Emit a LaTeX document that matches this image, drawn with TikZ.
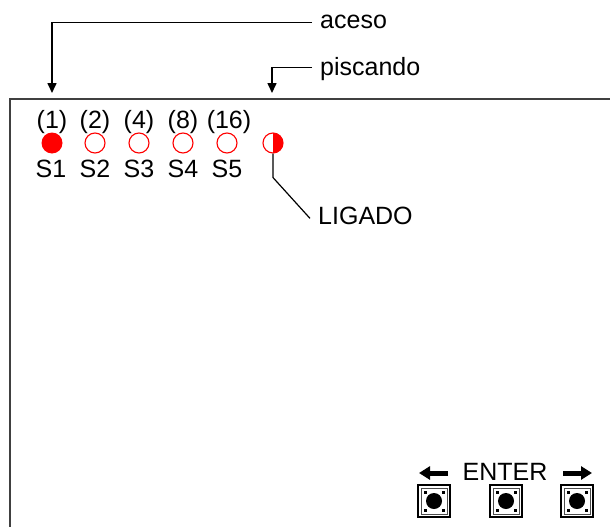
\documentclass[tikz,border=0pt]{standalone}
\usepackage{fontspec}
\setmainfont{Liberation Sans}
\usetikzlibrary{arrows.meta}
\definecolor{ledred}{RGB}{255,0,0}
\tikzset{
  txt/.style={inner sep=0pt, font=\fontsize{25}{29}\selectfont},
  conn/.style={line width=1.6, black},
  tip/.style={-{Triangle[width=9,length=10]}},
  ledon/.style={circle, minimum size=21, inner sep=0pt, fill=ledred},
  ledoff/.style={circle, minimum size=20, inner sep=0pt, draw=ledred, line width=1.1},
  ledhalf/.style={circle, minimum size=20, inner sep=0pt, draw=ledred, line width=1.1,
    path picture={\fill[ledred] (path picture bounding box.north) rectangle (path picture bounding box.south east);}},
  bigarrow/.style={line width=5, -{Triangle[width=13,length=11]}},
}
\begin{document}
\begin{tikzpicture}[x=1pt,y=-1pt]
\useasboundingbox (0,0) rectangle (610,527);
% panel
\draw[line width=2, black!75] (610,99) -- (10,99) -- (10,527);
% top labels
\node[txt, anchor=base west] (aceso) at (320,29) {aceso};
\node[txt, anchor=base west] (pisc) at (320,75) {piscando};
\coordinate (acesotip) at (52,93);
\coordinate (pisctip) at (272,93);
\draw[conn, tip] ([xshift=-8]aceso.west) -| (acesotip);
\draw[conn, tip] ([xshift=-8,yshift=1]pisc.west) -| (pisctip);
% weights
\foreach \n/\x/\w in {1/52/(1),2/95/(2),3/139/(4),4/183/(8),5/229/(16)}{
  \node[txt, anchor=base] (w\n) at (\x,128) {\w};
}
% LEDs
\node[ledon] (c1) at (52,143) {};
\node[ledoff] (c2) at (95,143) {};
\node[ledoff] (c3) at (139,143) {};
\node[ledoff] (c4) at (183,143) {};
\node[ledoff] (c5) at (227,143) {};
\node[ledhalf] (c6) at (273,143) {};
% switch names
\foreach \n/\x in {1/51,2/95,3/139,4/183,5/227}{
  \node[txt, anchor=base] (s\n) at (\x,177) {S\n};
}
% LIGADO
\node[txt, anchor=base west] (lig) at (318,224) {LIGADO};
\draw[line width=1.2] (c6.south) -- ++(0,24) -- ([xshift=-8,yshift=-3]lig.west);
% ENTER and arrows
\node[txt, anchor=base] (enter) at (505,480) {ENTER};
\coordinate (la) at (448,473);
\coordinate (ra) at (563,473);
\draw[bigarrow] (la) -- ++(-29,0);
\draw[bigarrow] (ra) -- ++(29,0);
% buttons
\foreach \n/\x in {1/434,2/506,3/577}{
  \node[draw, line width=1.8, minimum size=32, inner sep=0pt] (b\n) at (\x,501) {};
  \draw[line width=0.8, black!70] (\x-13,488) rectangle (\x+13,514);
  \fill (\x,501) circle[radius=8];
  \foreach \dx/\dy in {-9/-9,9/-9,-9/9,9/9}{
    \fill (\x+\dx-1.5,501+\dy-1.5) rectangle ++(3,3);
  }
}
\end{tikzpicture}
\end{document}
